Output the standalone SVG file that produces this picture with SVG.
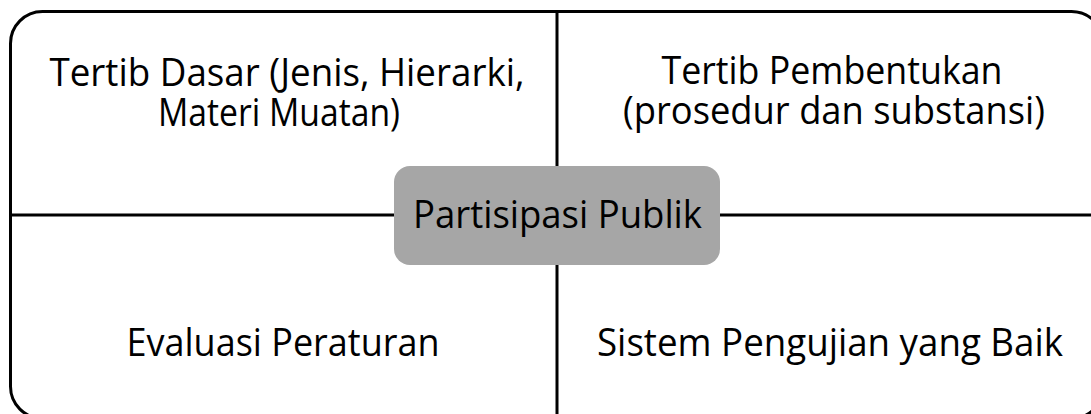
<svg xmlns="http://www.w3.org/2000/svg" width="1091" height="414" viewBox="0 0 1091 414">
<style>
.t{font-family:"Open Sans","Noto Sans","Liberation Sans",sans-serif;font-size:38px;fill:#000;text-anchor:middle}
.ln{stroke:#000;stroke-width:3;fill:none}
</style>
<rect width="1091" height="414" fill="#fff"/>
<g id="frame"><rect class="ln" x="10.5" y="11.5" width="1093" height="407" rx="32" ry="32"/></g>
<g id="connectors">
<line class="ln" x1="557" y1="11" x2="557" y2="414"/>
<line class="ln" x1="10" y1="215" x2="1091" y2="215"/>
</g>
<g id="q1"><text class="t" x="287" y="86" textLength="475" lengthAdjust="spacingAndGlyphs">Tertib Dasar (Jenis, Hierarki,</text><text class="t" x="279" y="126" textLength="242" lengthAdjust="spacingAndGlyphs">Materi Muatan)</text></g>
<g id="q2"><text class="t" x="832" y="84" textLength="341" lengthAdjust="spacingAndGlyphs">Tertib Pembentukan</text><text class="t" x="834" y="124" textLength="422" lengthAdjust="spacingAndGlyphs">(prosedur dan substansi)</text></g>
<g id="q3"><text class="t" x="283" y="356" textLength="313" lengthAdjust="spacingAndGlyphs">Evaluasi Peraturan</text></g>
<g id="q4"><text class="t" x="830" y="356" textLength="466" lengthAdjust="spacingAndGlyphs">Sistem Pengujian yang Baik</text></g>
<g id="center"><rect x="394" y="166" width="326" height="99" rx="16" ry="16" fill="#a6a6a6"/><text class="t" x="557.5" y="228" textLength="289" lengthAdjust="spacingAndGlyphs">Partisipasi Publik</text></g>
</svg>
